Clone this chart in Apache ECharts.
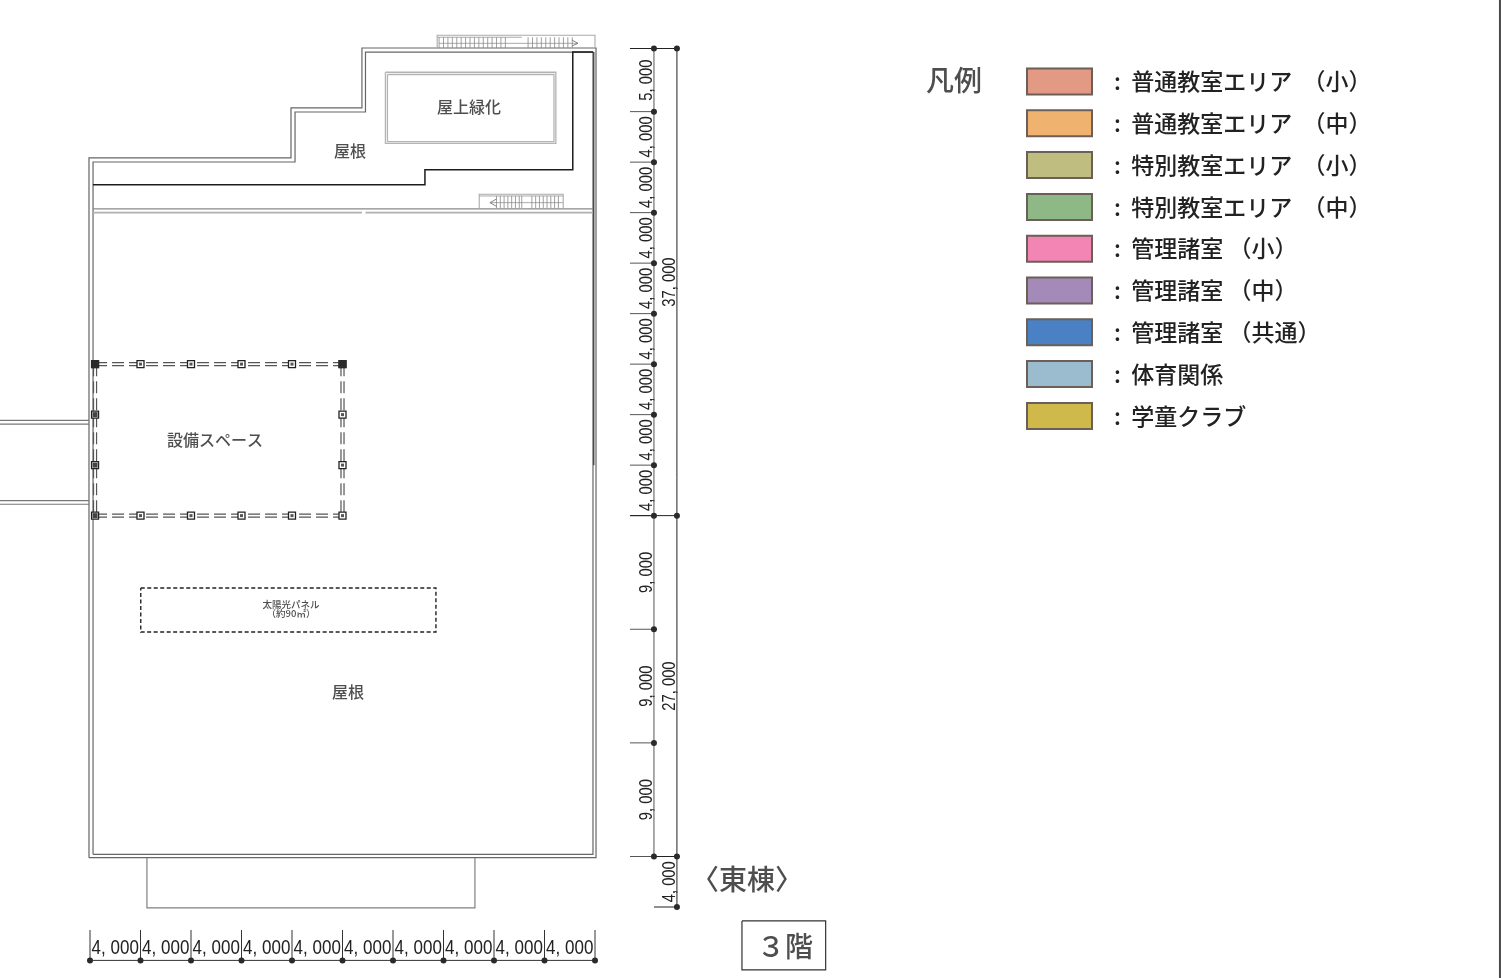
<!DOCTYPE html>
<html><head><meta charset="utf-8">
<style>html,body{margin:0;padding:0;background:#fff}#c{width:1509px;height:978px}</style>
<script src="https://cdn.jsdelivr.net/npm/echarts@6/dist/echarts.min.js"></script>
</head><body><div id="c"></div>
<script>
// ---- all plan geometry is in millimetres of the drawing ----
const widthSpans = [4000,4000,4000,4000,4000,4000,4000,4000,4000,4000];
const depthSpans = [5000,4000,4000,4000,4000,4000,4000,4000,4000,9000,9000,9000,4000];
const depthTotals = [37000,27000];
const legendNames = [':  普通教室エリア  （小）',':  普通教室エリア  （中）',':  特別教室エリア  （小）',':  特別教室エリア  （中）',':  管理諸室 （小）',':  管理諸室 （中）',':  管理諸室 （共通）',':  体育関係',':  学童クラブ'];
const legendColors = ['#e39a84','#efb26f','#bfbe80','#8eb987','#f285b4','#a48ab8','#4a80c4','#9bbcce','#cfb94a'];
const wallOuter = [[-80,64090],[-80,8670],[15920,8670],[15920,4710],[21540,4710],[21540,-40],[40080,-40],[40080,64090],[-80,64090]];
const wallInner = [[240,63830],[240,8990],[16240,8990],[16240,5030],[21820,5030],[21820,280],[39840,280],[39840,63830],[240,63830]];
const wallRightDark = [[39900,280],[39900,33000]];
const parapetDark = [[240,10790],[26530,10790],[26530,9600],[38240,9600],[38240,280],[39840,280]];
const ridgeUpper = [[240,12710],[39840,12710]];
const ridgeLower = [[240,13000],[21540,13000]];
const ridgeLower2 = [[21820,13000],[39840,13000]];
const greenOuter = [[23400,1880],[36900,1880],[36900,7510],[23400,7510],[23400,1880]];
const greenInner = [[23560,2060],[36750,2060],[36750,7370],[23560,7370],[23560,2060]];
const terrace = [[4510,64090],[4510,68070],[30490,68070],[30490,64090]];
const bridgeLines = [[-7130,29450,-80],[-7130,29760,-80],[-7130,35810,-80],[-7130,36100,-80]];
const panelBox = [[4020,42730],[27400,42730],[27400,46220],[4020,46220],[4020,42730]];
const colX = [400,4000,8000,12000,16000,20000];
const colY = [25000,29000,33000,37000];
const stairTopBox = [[27500,-40],[27500,-1045],[40000,-1045],[40000,-40]];
const stairTopInner = [[27500,-890],[34200,-890]];
const stairTopMid = [[27640,-410],[38650,-410]];
const stairTopTreads = [27650,28000,28350,28700,29050,29400,29750,30100,30450,30800,31150,31500,31850,32200,32550,32900,34700,35050,35400,35750,36100,36450,36800,37150,37500,37850,38200];
const stairTopArrow = [[38170,-670],[38650,-410],[38170,-200]];
const stairLowBox = [[30830,12710],[30830,11550],[37480,11550],[37480,12710]];
const stairLowInner = [[30830,11680],[37480,11680]];
const stairLowMid = [[31680,12210],[37480,12210]];
const stairLowTreads = [32200,32500,32800,33100,33400,33700,34000,34200,35000,35300,35600,35900,36200,36500,36800,37100];
const stairLowArrow = [[32200,11920],[31680,12210],[32200,12500]];
const frameRight = [[111680,-3840],[111680,73630]];
const floorBox = [[51640,69100],[58270,69100],[58270,72980],[51640,72980],[51640,69100]];
const roomTexts = [['屋根',20590,8120],['屋上緑化',30020,4630],['設備スペース',9900,31000],['屋根',20430,50960]];
const panelTexts = [['太陽光パネル',15920,44000],['（約90㎡）',15920,44710]];
const titleTexts = [['凡例',68430,2490],['〈東棟〉',52030,65780],['３階',55040,71080]];
const dimXLine = 72230, dimXTickTop = 69820, dimXText = 71270;
const dimYLine = 44670, dimYOuter = 46490, dimYTickStart = 42770, dimYText = 44100, dimYTotalText = 45920;

const fmt = v => String(v).replace(/(\d)(\d{3})$/, '$1, $2');
const cum = a => a.reduce((r,v)=>(r.push(r[r.length-1]+v),r),[0]);
const xs = cum(widthSpans), ys = cum(depthSpans);
const yMain = ys.slice(0,-1), yEnd = ys[ys.length-1], yTotals = cum(depthTotals);

const linesSeries = (data,color,width,type) => ({
  type:'lines',coordinateSystem:'cartesian2d',polyline:true,clip:false,silent:true,z:3,
  lineStyle:{color,width,opacity:1,type:type||'solid',curveness:0},
  data:data.map(c=>({coords:c}))
});
const textSeries = (data,base) => ({
  type:'scatter',symbolSize:0,clip:false,silent:true,z:6,
  data:data.map(d=>({value:[d[1],d[2]],name:d[0]})),
  label:Object.assign({show:true,position:'inside',align:'center',verticalAlign:'middle',formatter:p=>p.name,color:'#222',fontFamily:'"Noto Sans CJK JP"',fontWeight:500},base)
});
// condensed dimension figures: no narrow face is installed, so squeeze Liberation Sans
const dimText = (items,size,squeeze,rot) => ({
  type:'custom',coordinateSystem:'cartesian2d',silent:true,z:6,clip:false,
  data:items.map(d=>[d[1],d[2]]),
  renderItem:(p,api)=>{
    const c=api.coord([api.value(0),api.value(1)]);
    return {type:'text',x:c[0],y:c[1],rotation:rot?Math.PI/2:0,scaleX:squeeze,
      style:{text:items[p.dataIndex][0],fontFamily:'"Liberation Sans"',fontSize:size,fill:'#222',align:'center',verticalAlign:'middle'}};
  }
});
const mid = (a,i)=>(a[i]+a[i+1])/2;

const colPts=[];
colX.forEach(x=>colY.forEach(y=>{ if(x===colX[0]||x===colX[5]||y===colY[0]||y===colY[3]) colPts.push([x,y]); }));
const dOff=120;
const equip=[
 [[colX[0],colY[0]-dOff],[colX[5],colY[0]-dOff]],[[colX[0],colY[0]+dOff],[colX[5],colY[0]+dOff]],
 [[colX[0],colY[3]-dOff],[colX[5],colY[3]-dOff]],[[colX[0],colY[3]+dOff],[colX[5],colY[3]+dOff]],
 [[colX[0]-dOff,colY[0]],[colX[0]-dOff,colY[3]]],[[colX[0]+dOff,colY[0]],[colX[0]+dOff,colY[3]]],
 [[colX[5]-dOff,colY[0]],[colX[5]-dOff,colY[3]]],[[colX[5]+dOff,colY[0]],[colX[5]+dOff,colY[3]]]
];

const series=[
  linesSeries([wallOuter,wallInner],'#666',1.2),
  linesSeries([wallRightDark],'#444',1.4),
  linesSeries([ridgeUpper],'#8a8a8a',1.2),
  linesSeries([ridgeLower,ridgeLower2],'#b0b0b0',1.6),
  linesSeries([parapetDark],'#1c1c1c',1.5),
  linesSeries([greenOuter,greenInner],'#b4b4b4',1.3),
  linesSeries([terrace],'#808080',1.2),
  linesSeries(bridgeLines.map(b=>[[b[0],b[1]],[b[2],b[1]]]),'#777',1.2),
  linesSeries(equip,'#555',1.2,[12,5]),
  linesSeries([panelBox],'#222',1.4,[4,2.5]),
  linesSeries([stairTopBox,stairLowBox],'#aaa',1.1),
  linesSeries([stairTopInner,stairLowInner,stairTopMid,stairLowMid],'#aaa',1),
  linesSeries(stairTopTreads.map(x=>[[x,-890],[x,-40]]).concat(stairLowTreads.map(x=>[[x,11680],[x,12660]])),'#888',0.8),
  linesSeries([stairTopArrow,stairLowArrow],'#777',0.9),
  linesSeries([frameRight],'#4a4a4a',2),
  linesSeries([floorBox],'#333',1.2),
  // dimension lines
  linesSeries([[[xs[0],dimXLine],[xs[10],dimXLine]]].concat(xs.map(x=>[[x,dimXLine],[x,dimXTickTop]])),'#333',1),
  linesSeries([[[dimYLine,ys[0]],[dimYLine,yTotals[2]]]].concat(yMain.map(y=>[[dimYTickStart,y],[dimYLine,y]])),'#555',1),
  linesSeries([[[dimYOuter,yTotals[0]],[dimYOuter,yEnd]],[[dimYLine,yEnd],[dimYOuter,yEnd]],[[dimYLine,yTotals[2]],[dimYOuter,yTotals[2]]]].concat(yTotals.slice(0,2).map(y=>[[dimYTickStart,y],[dimYOuter,y]])),'#222',1),
  {type:'scatter',symbol:'circle',symbolSize:6,clip:false,silent:true,z:5,itemStyle:{color:'#2a2a2a',opacity:1},
   data:xs.map(x=>[x,dimXLine]).concat(yMain.map(y=>[dimYLine,y]),yTotals.map(y=>[dimYOuter,y]),[[dimYOuter,yEnd]])},
  // columns
  {type:'scatter',symbol:'rect',symbolSize:7,clip:false,silent:true,z:5,itemStyle:{color:'#fff',borderColor:'#222',borderWidth:1.3,opacity:1},data:colPts},
  {type:'scatter',symbol:'rect',symbolSize:3,clip:false,silent:true,z:5,itemStyle:{color:'#555',opacity:1},data:colPts},
  {type:'scatter',symbol:'rect',symbolSize:5,clip:false,silent:true,z:5,itemStyle:{color:'#444',opacity:1},data:colY.slice(1).map(y=>[colX[0],y])},
  {type:'scatter',symbol:'rect',symbolSize:8,clip:false,silent:true,z:5,itemStyle:{color:'#2a2a2a',opacity:1},data:[[colX[0],colY[0]],[colX[5],colY[0]]]},
  // texts
  textSeries(roomTexts,{fontSize:16}),
  textSeries(panelTexts,{fontSize:9.5}),
  textSeries(titleTexts,{fontSize:28}),
  dimText(widthSpans.map((v,i)=>[fmt(v),mid(xs,i),dimXText]),20,0.85,false),
  dimText(depthSpans.slice(0,-1).map((v,i)=>[fmt(v),dimYText,mid(ys,i)]),18.5,0.8,true),
  dimText([[fmt(depthSpans[12]),dimYTotalText,mid(ys,12)]],18.5,0.8,true),
  dimText(depthTotals.map((v,i)=>[fmt(v),dimYTotalText,mid(yTotals,i)]),18,0.82,true),
  // legend entries
  ...legendNames.map((n,i)=>({type:'scatter',name:n,data:[],itemStyle:{color:legendColors[i],borderColor:'#6b5f57',borderWidth:1,opacity:1}}))
];

const chart=echarts.init(document.getElementById('c'),null,{renderer:'canvas'});
chart.setOption({
  animation:false,backgroundColor:'#fff',
  grid:{left:90,top:48.5,width:505,height:858.5,containLabel:false},
  xAxis:{type:'value',min:0,max:40000,show:false},
  yAxis:{type:'value',min:0,max:68000,inverse:true,show:false},
  legend:{data:legendNames,orient:'vertical',left:1026,top:67.5,itemWidth:65,itemHeight:26,itemGap:13.8,icon:'rect',selectedMode:false,padding:0,
    textStyle:{fontFamily:'"Noto Sans CJK JP"',fontSize:23,fontWeight:500,color:'#222',lineHeight:26,padding:[0,0,0,17]}},
  series
});
</script></body></html>
